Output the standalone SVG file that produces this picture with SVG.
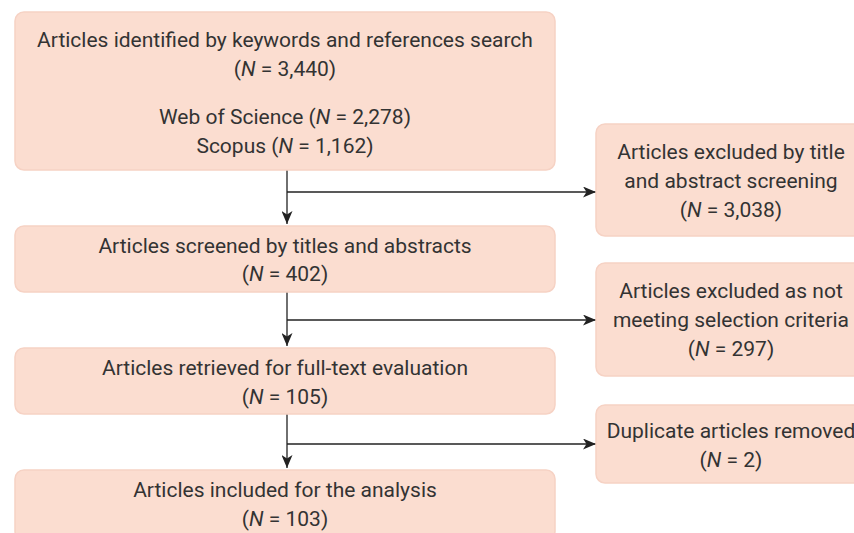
<svg xmlns="http://www.w3.org/2000/svg" width="854" height="533" viewBox="0 0 854 533">
  <defs>
    <marker id="arrow" viewBox="0 0 13 11" refX="13" refY="5.5" markerWidth="13" markerHeight="11" markerUnits="userSpaceOnUse" orient="auto">
      <path d="M0,0 L13,5.5 L0,11 L3.5,5.5 Z" fill="#222"/>
    </marker>
  </defs>
  <style>
    .box { fill: #fbddd0; stroke: #f6d2c4; stroke-width: 1.5; }
    .txt { font-family: Roboto, "Liberation Sans", sans-serif; font-size: 21px; fill: #333333; text-anchor: middle; }
    .conn { stroke: #222; stroke-width: 1.3; fill: none; }
  </style>
  <rect width="854" height="533" fill="#ffffff"/>

  <g id="connectors">
    <path class="conn" d="M287,170 V224" marker-end="url(#arrow)"/>
    <path class="conn" d="M287,192 H596" marker-end="url(#arrow)"/>
    <path class="conn" d="M287,292 V346" marker-end="url(#arrow)"/>
    <path class="conn" d="M287,320 H596" marker-end="url(#arrow)"/>
    <path class="conn" d="M287,414 V468" marker-end="url(#arrow)"/>
    <path class="conn" d="M287,444 H596" marker-end="url(#arrow)"/>
  </g>

  <g id="identified">
    <rect class="box" x="15" y="12" width="540" height="158" rx="9"/>
    <text class="txt" x="285" y="47">Articles identified by keywords and references search</text>
    <text class="txt" x="285" y="76">(<tspan font-style="italic">N</tspan> = 3,440)</text>
    <text class="txt" x="285" y="124">Web of Science (<tspan font-style="italic">N</tspan> = 2,278)</text>
    <text class="txt" x="285" y="153">Scopus (<tspan font-style="italic">N</tspan> = 1,162)</text>
  </g>

  <g id="screened">
    <rect class="box" x="15" y="226" width="540" height="66" rx="9"/>
    <text class="txt" x="285" y="253">Articles screened by titles and abstracts</text>
    <text class="txt" x="285" y="281">(<tspan font-style="italic">N</tspan> = 402)</text>
  </g>

  <g id="retrieved">
    <rect class="box" x="15" y="348" width="540" height="66" rx="9"/>
    <text class="txt" x="285" y="375">Articles retrieved for full-text evaluation</text>
    <text class="txt" x="285" y="404">(<tspan font-style="italic">N</tspan> = 105)</text>
  </g>

  <g id="included">
    <rect class="box" x="15" y="470" width="540" height="70" rx="9"/>
    <text class="txt" x="285" y="497">Articles included for the analysis</text>
    <text class="txt" x="285" y="526">(<tspan font-style="italic">N</tspan> = 103)</text>
  </g>

  <g id="excluded-title">
    <rect class="box" x="596" y="124" width="270" height="112" rx="9"/>
    <text class="txt" x="731" y="159">Articles excluded by title</text>
    <text class="txt" x="731" y="188">and abstract screening</text>
    <text class="txt" x="731" y="217">(<tspan font-style="italic">N</tspan> = 3,038)</text>
  </g>

  <g id="excluded-criteria">
    <rect class="box" x="596" y="263" width="270" height="113" rx="9"/>
    <text class="txt" x="731" y="298">Articles excluded as not</text>
    <text class="txt" x="731" y="327">meeting selection criteria</text>
    <text class="txt" x="731" y="356">(<tspan font-style="italic">N</tspan> = 297)</text>
  </g>

  <g id="duplicates">
    <rect class="box" x="596" y="405" width="270" height="78" rx="9"/>
    <text class="txt" x="731" y="438">Duplicate articles removed</text>
    <text class="txt" x="731" y="467">(<tspan font-style="italic">N</tspan> = 2)</text>
  </g>
</svg>
